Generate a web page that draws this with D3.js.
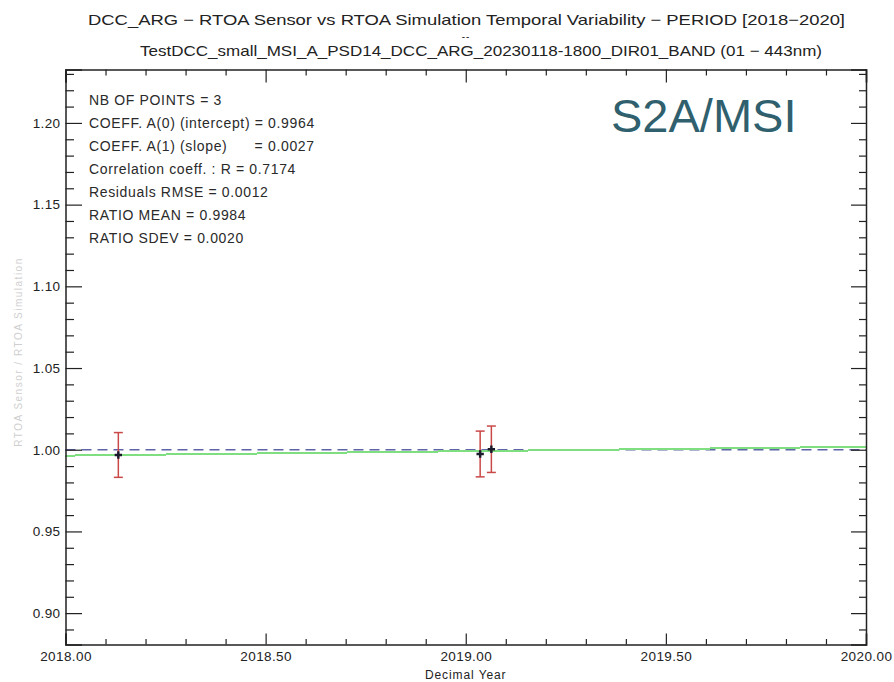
<!DOCTYPE html>
<html>
<head>
<meta charset="utf-8">
<script src="https://cdn.jsdelivr.net/npm/d3@7"></script>
<style>
  body { margin: 0; background: #fff; }
  svg { font-family: "Liberation Sans", Arial, sans-serif; }
  .stat { white-space: pre; }
</style>
</head>
<body>
<script>
// points
const years = [2018.132, 2019.036, 2019.064];
const ratios = [0.9968, 0.9974, 1.0003];
const errs = [0.0137, 0.0140, 0.0142];

const fitA0 = 0.9964;
const fitA1 = 0.0027;

const statLines = [
  "NB OF POINTS = 3",
  "COEFF. A(0) (intercept) = 0.9964",
  "COEFF. A(1) (slope)      = 0.0027",
  "Correlation coeff. : R = 0.7174",
  "Residuals RMSE = 0.0012",
  "RATIO MEAN = 0.9984",
  "RATIO SDEV = 0.0020"
];

const xMajor = [2018, 2018.5, 2019, 2019.5, 2020];
const yMajor = [0.90, 0.95, 1.00, 1.05, 1.10, 1.15, 1.20];

const width = 894, height = 682;
const mLeft = 65.5, mRight = 866, mTop = 69.5, mBottom = 644.5;

const svg = d3.select("body").append("svg")
  .attr("width", width)
  .attr("height", height);

const x = d3.scaleLinear([2018, 2020], [mLeft, mRight]);
const y = d3.scaleLinear([0.8808, 1.2327], [mBottom, mTop]);

const xMinor = d3.range(0, 21).map(i => 2018 + i / 10).filter(v => !xMajor.some(m => Math.abs(m - v) < 1e-6));
const yMinor = d3.range(89, 124).map(i => i / 100).filter(v => !yMajor.some(m => Math.abs(m - v) < 1e-6));

// titles
const title = svg.append("g").attr("fill", "#222").attr("font-size", 15);
title.append("text")
  .attr("x", 88).attr("y", 25)
  .attr("textLength", 757).attr("lengthAdjust", "spacingAndGlyphs")
  .text("DCC_ARG \u2212 RTOA Sensor vs RTOA Simulation Temporal Variability \u2212 PERIOD [2018\u22122020]");
title.append("text")
  .attr("x", 466).attr("y", 40).attr("text-anchor", "middle")
  .attr("font-size", 10).attr("letter-spacing", 1)
  .text("--");
title.append("text")
  .attr("x", 140).attr("y", 56)
  .attr("textLength", 682).attr("lengthAdjust", "spacingAndGlyphs")
  .text("TestDCC_small_MSI_A_PSD14_DCC_ARG_20230118-1800_DIR01_BAND (01 \u2212 443nm)");

// reference line at 1
svg.append("line")
  .attr("x1", x(2018)).attr("x2", x(2020))
  .attr("y1", y(1)).attr("y2", y(1))
  .attr("stroke", "#5f63a8").attr("stroke-width", 1.5)
  .attr("stroke-dasharray", "10,6");

// linear fit
const fit = d3.line().x(d => x(d)).y(d => y(fitA0 + fitA1 * (d - 2018)));
svg.append("path")
  .attr("d", fit([2018, 2020]))
  .attr("fill", "none")
  .attr("stroke", "#7fde7f").attr("stroke-width", 2)
  .attr("shape-rendering", "crispEdges");

// error bars
const pts = years.map((yr, i) => ({yr, r: ratios[i], e: errs[i]}));
const eb = svg.append("g").attr("stroke", "#c94848").attr("stroke-width", 1.5);
eb.selectAll(".v").data(pts).join("line").attr("class", "v")
  .attr("x1", d => x(d.yr)).attr("x2", d => x(d.yr))
  .attr("y1", d => y(d.r + d.e)).attr("y2", d => y(d.r - d.e));
eb.selectAll(".t").data(pts).join("line").attr("class", "t")
  .attr("x1", d => x(d.yr) - 4.5).attr("x2", d => x(d.yr) + 4.5)
  .attr("y1", d => y(d.r + d.e)).attr("y2", d => y(d.r + d.e));
eb.selectAll(".b").data(pts).join("line").attr("class", "b")
  .attr("x1", d => x(d.yr) - 4.5).attr("x2", d => x(d.yr) + 4.5)
  .attr("y1", d => y(d.r - d.e)).attr("y2", d => y(d.r - d.e));

svg.append("g").selectAll("path").data(pts).join("path")
  .attr("transform", d => `translate(${x(d.yr)},${y(d.r)})`)
  .attr("d", d3.symbol(d3.symbolCross, 30))
  .attr("fill", "#1a1a2a");

// axes
function axis(gen, tx, ty, minor) {
  const g = svg.append("g").attr("transform", `translate(${tx},${ty})`).call(gen);
  g.selectAll("path.domain").attr("stroke", "#222").attr("stroke-width", 1.5);
  g.selectAll(".tick line").attr("stroke", "#222").attr("stroke-width", 1.2);
  g.selectAll("text").attr("fill", "#222").attr("font-size", 13.5)
    .attr("letter-spacing", 0.4)
    .attr("font-family", "Liberation Sans, Arial, sans-serif");
  if (minor) g.select("path.domain").remove();
  return g;
}

axis(d3.axisBottom(x).tickValues(xMajor).tickSize(-11).tickPadding(7).tickFormat(d3.format(".2f")), 0, mBottom);
axis(d3.axisBottom(x).tickValues(xMinor).tickSize(-5.5).tickFormat(""), 0, mBottom, true);
axis(d3.axisTop(x).tickValues(xMajor).tickSize(-13).tickFormat(""), 0, mTop);
axis(d3.axisTop(x).tickValues(xMinor).tickSize(-6).tickFormat(""), 0, mTop, true);
axis(d3.axisLeft(y).tickValues(yMajor).tickSize(-16.5).tickPadding(5).tickFormat(d3.format(".2f")), mLeft, 0);
axis(d3.axisLeft(y).tickValues(yMinor).tickSize(-8.5).tickFormat(""), mLeft, 0, true);
axis(d3.axisRight(y).tickValues(yMajor).tickSize(-15).tickFormat(""), mRight, 0);
axis(d3.axisRight(y).tickValues(yMinor).tickSize(-7).tickFormat(""), mRight, 0, true);

svg.append("text")
  .attr("x", (mLeft + mRight) / 2).attr("y", 678.5)
  .attr("text-anchor", "middle")
  .attr("font-size", 12).attr("letter-spacing", 0.9).attr("fill", "#222")
  .text("Decimal Year");

// faint y label
svg.append("text")
  .attr("transform", `translate(22,${(mTop + mBottom) / 2 - 5}) rotate(-90)`)
  .attr("text-anchor", "middle")
  .attr("font-size", 10).attr("letter-spacing", 1.5).attr("fill", "#cfcfcf")
  .text("RTOA Sensor / RTOA Simulation");

// stats block
svg.append("g").selectAll("text").data(statLines).join("text")
  .attr("class", "stat")
  .attr("x", 89)
  .attr("y", (d, i) => 105 + i * 23)
  .attr("font-size", 14)
  .attr("letter-spacing", 0.65)
  .attr("fill", "#2a2a2a")
  .text(d => d);

// sensor tag
svg.append("text")
  .attr("x", 611).attr("y", 132)
  .attr("font-size", 47)
  .attr("fill", "#305f6e")
  .text("S2A/MSI");
</script>
</body>
</html>
